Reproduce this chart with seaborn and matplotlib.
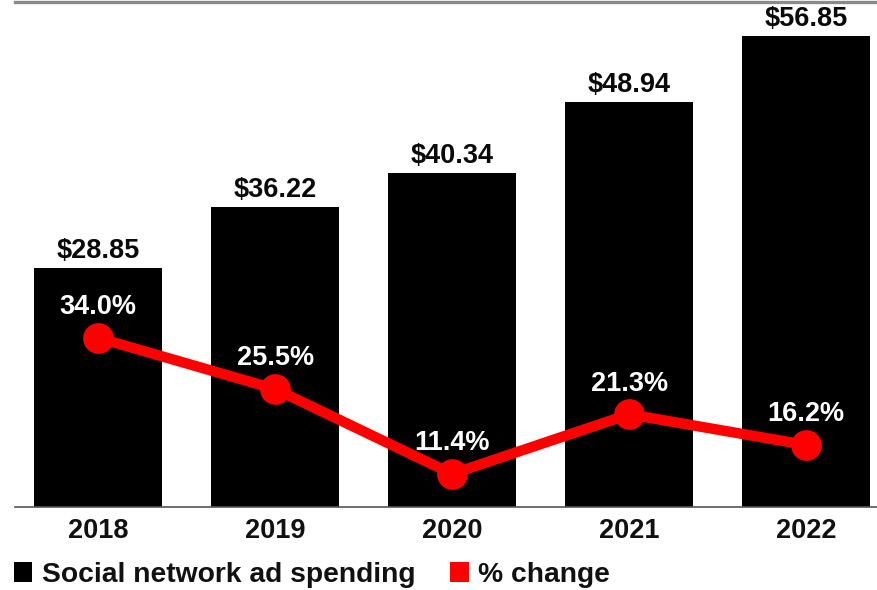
import matplotlib
matplotlib.use("Agg")
import matplotlib.pyplot as plt
from matplotlib.patches import Patch
import pandas as pd
import seaborn as sns

# Social network ad spending (billions) and year-over-year % change
years = ["2018", "2019", "2020", "2021", "2022"]
spending = [28.85, 36.22, 40.34, 48.94, 56.85]
pct_change = [34.0, 25.5, 11.4, 21.3, 16.2]
legend_labels = ["Social network ad spending", "% change"]

df = pd.DataFrame({"year": years, "spending": spending, "pct": pct_change})

sns.set_theme(style="white")
plt.rcParams["font.family"] = ["Liberation Sans", "DejaVu Sans"]
plt.rcParams["font.weight"] = "bold"

FS = 19.5
LEGEND_FS = 20.3
BAR_COLOR = "#000000"
LINE_COLOR = "#ff0000"

fig = plt.figure(figsize=(8.77, 5.90), dpi=100)
ax = fig.add_axes([15 / 877, 83 / 590, 1 - 15 / 877, (507 - 2) / 590])

sns.barplot(data=df, x="year", y="spending", color=BAR_COLOR, saturation=1,
            width=0.726, edgecolor="none", ax=ax, zorder=2)
ax.set_ylim(0, 60.95)

for i, v in enumerate(spending):
    ax.annotate(f"${v:.2f}", xy=(i, v), xytext=(0, 2.5), textcoords="offset points",
                ha="center", va="bottom", fontsize=FS, fontweight="bold",
                color="#0a0a0a")

ax2 = ax.twinx()
sns.pointplot(data=df, x="year", y="pct", color=LINE_COLOR, ax=ax2,
              markersize=16.5, linewidth=7.5, zorder=3)
ax2.set_ylim(5.9, 89.8)

for i, p in enumerate(pct_change):
    ax2.annotate(f"{p:.1f}%", xy=(i, p), xytext=(0, 22), textcoords="offset points",
                 ha="center", va="center", fontsize=FS, fontweight="bold",
                 color="white")

for a in (ax, ax2):
    a.set_xlim(-0.469, 4.40)
    a.set_xlabel("")
    a.set_ylabel("")
    a.set_yticks([])
    for side in ("left", "right", "top", "bottom"):
        a.spines[side].set_visible(False)

ax.spines["top"].set_visible(True)
ax.spines["top"].set_color("#8a8a8a")
ax.spines["top"].set_linewidth(2.4)
ax.spines["bottom"].set_visible(True)
ax.spines["bottom"].set_color("#555555")
ax.spines["bottom"].set_linewidth(1.2)

ax.tick_params(axis="x", length=0, pad=8, labelsize=FS, labelcolor="#111111")
for t in ax.get_xticklabels():
    t.set_fontweight("bold")
ax2.tick_params(axis="x", length=0, labelbottom=False)

handles = [Patch(facecolor=BAR_COLOR, edgecolor="none"),
           Patch(facecolor=LINE_COLOR, edgecolor="none")]
fig.legend(handles, legend_labels, loc="center left",
           bbox_to_anchor=(14 / 877, 1 - 575 / 590), ncol=2, frameon=False,
           prop={"size": LEGEND_FS, "weight": "bold"}, handlelength=0.65,
           handleheight=0.72, handletextpad=0.33, columnspacing=1.25,
           borderpad=0, borderaxespad=0, labelcolor="#111111")

fig.savefig("out.png", dpi=100)
